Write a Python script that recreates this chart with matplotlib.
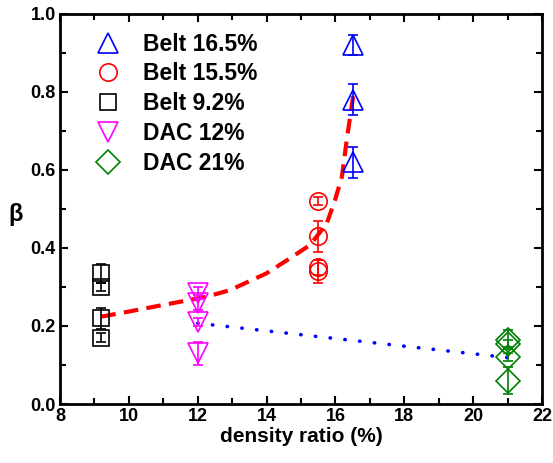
import matplotlib
matplotlib.use('Agg')
import matplotlib.pyplot as plt
from matplotlib.ticker import MultipleLocator, FormatStrFormatter
from matplotlib.lines import Line2D

plt.rcParams['font.family'] = ['Liberation Sans', 'DejaVu Sans']
plt.rcParams['font.weight'] = 'bold'

# data
belt165_x = [16.5, 16.5, 16.5]
belt165_y = [0.92, 0.78, 0.62]
belt165_e = [0.025, 0.04, 0.04]

belt155_x = [15.5, 15.5, 15.5, 15.5]
belt155_y = [0.52, 0.43, 0.35, 0.34]
belt155_e = [0.01, 0.04, 0.02, 0.03]

belt92_x = [9.2, 9.2, 9.2, 9.2]
belt92_y = [0.335, 0.30, 0.22, 0.17]
belt92_e = [0.025, 0.01, 0.027, 0.012]

dac12_x = [12, 12, 12, 12]
dac12_y = [0.285, 0.26, 0.21, 0.13]
dac12_e = [0.015, 0.02, 0.01, 0.03]

dac21_x = [21, 21, 21, 21]
dac21_y = [0.165, 0.155, 0.12, 0.06]
dac21_e = [0.025, 0.01, 0.01, 0.035]

# red dashed guide curve
fit_red_x = [9.2, 10.0, 11.0, 12.26, 12.94, 14.0, 14.69, 15.27, 15.75, 15.99, 16.19, 16.33, 16.55]
fit_red_y = [0.224, 0.237, 0.254, 0.275, 0.292, 0.335, 0.374, 0.408, 0.463, 0.523, 0.583, 0.677, 0.81]

# blue dotted guide line
fit_blue_x = [12, 21]
fit_blue_y = [0.207, 0.119]

labels = ['Belt 16.5%', 'Belt 15.5%', 'Belt 9.2%', 'DAC 12%', 'DAC 21%']
colors = ['blue', 'red', 'black', 'magenta', 'green']
markers = ['^', 'o', 's', 'v', 'D']
sizes = [14, 12.5, 11, 14, 12]

fig = plt.figure(figsize=(5.53, 4.63), dpi=100)
ax = fig.add_axes([0.1085, 0.1274, 0.8715, 0.8426])

ax.plot(fit_red_x, fit_red_y, color='red', lw=3, ls=(0, (3.5, 2.0)), zorder=1)
ax.plot(fit_blue_x, fit_blue_y, color='blue', lw=2.6, ls=(0, (0.1, 4.0)),
        dash_capstyle='round', zorder=1)

series = [(belt165_x, belt165_y, belt165_e), (belt155_x, belt155_y, belt155_e),
          (belt92_x, belt92_y, belt92_e), (dac12_x, dac12_y, dac12_e),
          (dac21_x, dac21_y, dac21_e)]
handles = []
for (x, y, e), c, m, s, lab in zip(series, colors, markers, sizes, labels):
    ax.errorbar(x, y, yerr=e, fmt=m, color=c, ms=s, mfc='none', mew=1.2,
                capsize=3.5, elinewidth=1.2, capthick=1.2)
    handles.append(Line2D([], [], ls='none', marker=m, color=c, ms=s, mfc='none', mew=1.2))

ax.set_xlim(8, 22)
ax.set_ylim(0, 1.0)
ax.xaxis.set_major_locator(MultipleLocator(2))
ax.xaxis.set_minor_locator(MultipleLocator(1))
ax.yaxis.set_major_locator(MultipleLocator(0.2))
ax.yaxis.set_minor_locator(MultipleLocator(0.1))
ax.yaxis.set_major_formatter(FormatStrFormatter('%.1f'))
ax.tick_params(which='both', direction='in', top=True, right=True, width=1.5,
               labelsize=13, pad=3)
ax.tick_params(which='major', length=6)
ax.tick_params(which='minor', length=4)
for sp in ax.spines.values():
    sp.set_linewidth(2)

ax.set_xlabel('density ratio (%)', fontsize=15, fontweight='bold', labelpad=1)
ax.set_ylabel('β', fontsize=17, fontweight='bold', rotation=0, va='center', ha='center')
ax.yaxis.set_label_coords(-0.092, 0.485)

leg = ax.legend(handles, labels, loc='upper left', frameon=False, fontsize=16.5,
                handletextpad=0.7, labelspacing=0.3, borderaxespad=0,
                handlelength=1.6, borderpad=0, bbox_to_anchor=(0.062, 0.952))
for t in leg.get_texts():
    t.set_fontweight('bold')

fig.savefig('out.png', dpi=100)
